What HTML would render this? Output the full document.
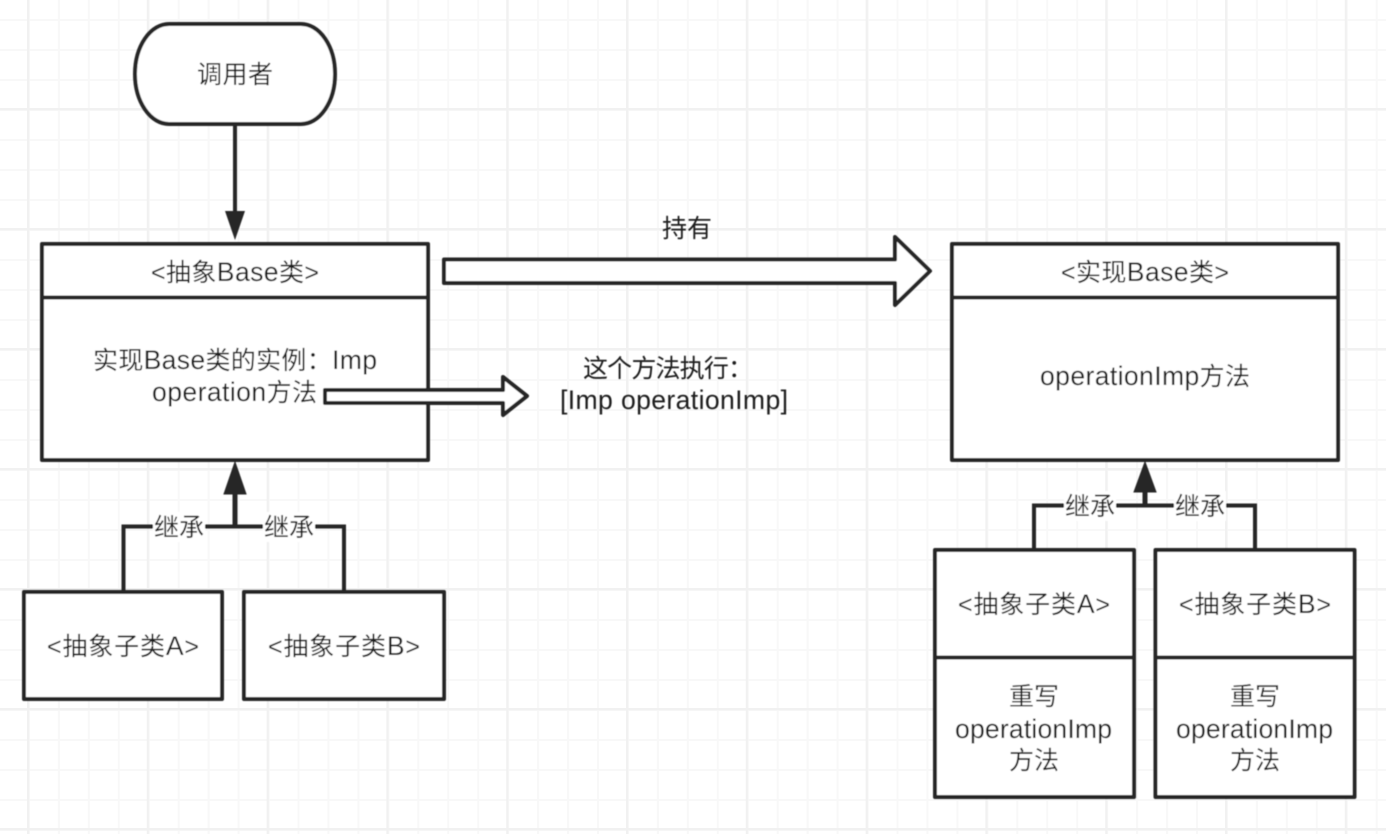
<!DOCTYPE html>
<html>
<head>
<meta charset="utf-8">
<style>
html,body{margin:0;padding:0;background:#fff;width:1386px;height:834px;overflow:hidden}
svg{display:block;position:absolute;left:0;top:0}
text{font-family:"Liberation Sans","Noto Sans CJK SC",sans-serif;font-size:25px;fill:#1e1e1e;font-weight:400}
tspan{font-size:26.600px}
.b{fill:#fff;stroke:#272727;stroke-width:4;stroke-linejoin:round}
.l{fill:none;stroke:#272727;stroke-width:4}
</style>
</head>
<body>
<svg width="1386" height="834" viewBox="0 0 1386 834" xmlns="http://www.w3.org/2000/svg">
<defs>
<pattern id="minor" x="-2" y="-11" width="29.95" height="30" patternUnits="userSpaceOnUse">
<path d="M1 0V30M0 1H30" stroke="#f8f8f8" stroke-width="2" fill="none"/>
</pattern>
<pattern id="major" x="27" y="108" width="119.8" height="120" patternUnits="userSpaceOnUse">
<path d="M1 0V120M0 1H120" stroke="#f1f1f1" stroke-width="2.500" fill="none"/>
</pattern>
<filter id="soft" x="-2%" y="-2%" width="104%" height="104%"><feGaussianBlur stdDeviation="0.500"/></filter>
</defs>
<rect width="1386" height="834" fill="#fff"/>
<rect width="1386" height="834" fill="url(#minor)"/>
<rect width="1386" height="834" fill="url(#major)"/>
<g filter="url(#soft)">
<!-- caller -->
<rect class="b" x="135" y="24" width="200" height="100" rx="34" ry="50"/>
<path class="l" d="M235 125V214"/>
<path d="M225 211H245L235 240Z" fill="#272727"/>

<!-- left base -->
<rect class="b" x="42" y="244" width="386" height="216"/>
<path class="l" d="M42 297.500H428"/>

<!-- right base -->
<rect class="b" x="952" y="244" width="386" height="216"/>
<path class="l" d="M952 297.500H1338"/>

<!-- hold arrow -->
<path class="b" d="M444 259.500H895V237L930 271L895 305V283H444Z"/>
<!-- method arrow -->
<path class="b" d="M325 390H503V377L527 396L503 415V403H325Z"/>

<!-- left inheritance -->
<path class="l" d="M123.500 591V526.500H344V591"/>
<path d="M235 493V526" stroke="#272727" stroke-width="5" fill="none"/>
<path d="M224 494H246L235 462Z" fill="#272727" stroke="#272727" stroke-width="1"/>
<rect x="153" y="512" width="52" height="30" fill="#fff"/>
<rect x="263" y="512" width="52" height="30" fill="#fff"/>

<!-- left subclasses -->
<rect class="b" x="24" y="592" width="198" height="107"/>
<rect class="b" x="244" y="592" width="200" height="107"/>

<!-- right inheritance -->
<path class="l" d="M1034 549V505.500H1255V549"/>
<path d="M1145 491V505" stroke="#272727" stroke-width="5" fill="none"/>
<path d="M1134 492H1156L1145 462Z" fill="#272727" stroke="#272727" stroke-width="1"/>
<rect x="1064" y="491" width="52" height="30" fill="#fff"/>
<rect x="1174" y="491" width="52" height="30" fill="#fff"/>

<!-- right subclasses -->
<rect class="b" x="935" y="550" width="199" height="247"/>
<path class="l" d="M935 657.500H1134"/>
<rect class="b" x="1155.500" y="550" width="199" height="247"/>
<path class="l" d="M1155.500 657.500H1354.500"/>

<!-- labels -->
<text x="197" y="83" textLength="76">调用者</text>
<text x="151" y="281" textLength="168">&lt;抽象<tspan>Base</tspan>类&gt;</text>
<text x="93" y="369" textLength="284">实现<tspan>Base</tspan>类的实例：<tspan>Imp</tspan></text>
<text x="152" y="401" textLength="165"><tspan>operation</tspan>方法</text>
<text x="662" y="237" textLength="50">持有</text>
<text x="583" y="377" textLength="170">这个方法执行：</text>
<text x="560" y="409" textLength="228"><tspan>[Imp operationImp]</tspan></text>
<text x="1061" y="281" textLength="168">&lt;实现<tspan>Base</tspan>类&gt;</text>
<text x="1040" y="385" textLength="210"><tspan>operationImp</tspan>方法</text>
<text x="154" y="536" textLength="50">继承</text>
<text x="264" y="536" textLength="50">继承</text>
<text x="1065" y="515" textLength="50">继承</text>
<text x="1175" y="515" textLength="50">继承</text>
<text x="47" y="655" textLength="152">&lt;抽象子类<tspan>A</tspan>&gt;</text>
<text x="268" y="655" textLength="152">&lt;抽象子类<tspan>B</tspan>&gt;</text>
<text x="958" y="613" textLength="152">&lt;抽象子类<tspan>A</tspan>&gt;</text>
<text x="1179" y="613" textLength="152">&lt;抽象子类<tspan>B</tspan>&gt;</text>
<text x="1009" y="705" textLength="50">重写</text>
<text x="955" y="738" textLength="157"><tspan>operationImp</tspan></text>
<text x="1009" y="769" textLength="50">方法</text>
<text x="1230" y="705" textLength="50">重写</text>
<text x="1176" y="738" textLength="157"><tspan>operationImp</tspan></text>
<text x="1230" y="769" textLength="50">方法</text>
</g>
</svg>
</body>
</html>
